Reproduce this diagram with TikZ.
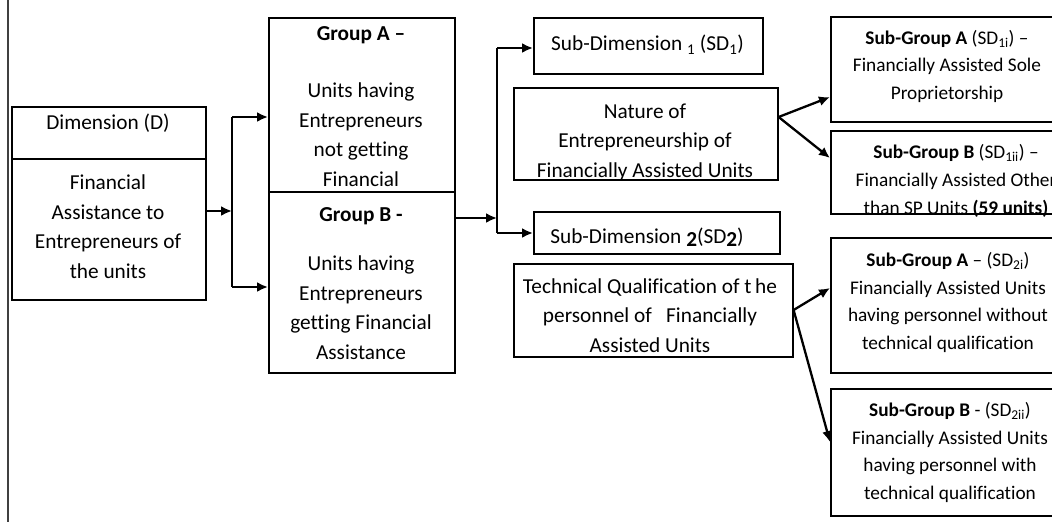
\documentclass[tikz,border=0pt]{standalone}
\usepackage{fontspec}
\setmainfont{Carlito}[Ligatures={TeX,NoCommon}]
\usetikzlibrary{arrows.meta}

\tikzset{
  box/.style={draw=black, line width=1.6pt, rectangle, inner sep=0pt, anchor=north west},
  txt/.style={align=center, inner sep=0pt, text=black,
    font=\fontsize{21.3}{29.7}\selectfont,
    execute at begin node=\strut, execute at end node=\strut},
  rtxt/.style={txt, font=\fontsize{19.3}{27.6}\selectfont},
  conn/.style={draw=black, line width=2.3pt},
  arr/.style={conn, -{Latex[length=11pt,width=10pt]}},
  lnk/.style={draw=black, line width=2.3pt, -{Latex[length=11pt,width=10pt]}, shorten <=-1pt},
}

\begin{document}
\begin{tikzpicture}[x=1pt,y=-1pt]
\useasboundingbox[fill=white] (0,0) rectangle (1052,522);

% page margin rule on the left
\draw[line width=1.2pt, black!75] (8,0) -- (8,522);

% ---- Dimension ----
\node[box, minimum width=194pt, minimum height=52pt] (dimtop) at (11,106) {};
\node[box, minimum width=194pt, minimum height=141pt] (dimbot) at (11,158) {};
\node[txt] (tdimtop) at (108,124) {Dimension (D)};
\node[txt] (tdimbot) at (108,231) {Financial\\Assistance to\\Entrepreneurs of\\the units};

% ---- Groups ----
\node[box, minimum width=186pt, minimum height=174pt] (grpA) at (268,17) {};
\node[box, minimum width=186pt, minimum height=181pt] (grpB) at (268,191) {};
\node[txt] (tgrpA) at (361,111) {\textbf{Group A –}\\[27.3pt]Units having\\Entrepreneurs\\not getting\\Financial};
\node[txt] (tgrpB) at (361,288) {\textbf{Group B -}\\[19.3pt]Units having\\Entrepreneurs\\getting Financial\\Assistance};

% ---- Sub-dimensions ----
\node[box, minimum width=229pt, minimum height=56pt] (sd1) at (533,17) {};
\node[txt] (tsd1) at (647.5,45) {Sub-Dimension \textsubscript{1} (SD\textsubscript{1})};
\node[box, minimum width=264pt, minimum height=92pt] (nat) at (513,87) {};
\node[txt] (tnat) at (645,145) {Nature of\\Entrepreneurship of\\Financially Assisted Units};

\node[box, minimum width=246pt, minimum height=42pt] (sd2) at (533,211) {};
\node[txt] (tsd2) at (647,238) {Sub-Dimension \raisebox{-2.5pt}{\textbf{2}}(SD\raisebox{-2.5pt}{\textbf{2}})};
\node[box, minimum width=279pt, minimum height=93pt] (tec) at (513,263) {};
\node[txt] (ttec) at (650,320) {Technical Qualification of t\,he\\personnel of \ \ Financially\\Assisted Units};

% ---- Sub-groups ----
\node[box, minimum width=234pt, minimum height=105pt] (sga1) at (830,16) {};
\node[rtxt] (tsga1) at (947,69) {\textbf{Sub-Group A} (SD\textsubscript{1i}) –\\Financially Assisted Sole\\Proprietorship};
\node[box, minimum width=252pt, minimum height=83pt] (sgb1) at (830,130) {};
\node[rtxt] (tsgb1) at (956,183.5) {\textbf{Sub-Group B} (SD\textsubscript{1ii}) –\\Financially Assisted Other\\than SP Units \textbf{(59 units)}};
\node[box, minimum width=236pt, minimum height=135pt] (sga2) at (830,237) {};
\node[rtxt] (tsga2) at (948,305) {\textbf{Sub-Group A} – (SD\textsubscript{2i})\\Financially Assisted Units\\having personnel without\\technical qualification};
\node[box, minimum width=240pt, minimum height=127pt] (sgb2) at (830,388) {};
\node[rtxt] (tsgb2) at (950,455) {\textbf{Sub-Group B} - (SD\textsubscript{2ii})\\Financially Assisted Units\\having personnel with\\technical qualification};

% ---- junction points ----
\coordinate (j1) at (232,211);
\coordinate (j1a) at (232,117);
\coordinate (j1b) at (232,287);
\coordinate (j2) at (497,218);
\coordinate (j2a) at (497,48);
\coordinate (j2b) at (497,233);
\coordinate (o1) at (777,117);
\coordinate (o2) at (792,310);

% ---- connectors ----
\draw[arr] (j1 -| dimbot.east) -- (j1);
\draw[conn] (j1a) -- (j1b);
\draw[arr] (j1a) -- (j1a -| grpA.west);
\draw[arr] (j1b) -- (j1b -| grpB.west);

\draw[arr] (j2 -| grpB.east) -- (j2);
\draw[conn] (j2a) -- (j2b);
\draw[arr] (j2a) -- (j2a -| sd1.west);
\draw[arr] (j2b) -- (j2b -| sd2.west);

\draw[lnk] (o1 -| nat.east) -- (sga1.west |- 0,97);
\draw[lnk] (o1 -| nat.east) -- (sgb1.west |- 0,158);
\draw[lnk] (o2 -| tec.east) -- (sga2.west |- 0,288);
\draw[lnk] (o2 -| tec.east) -- (sgb2.west |- 0,442);
\end{tikzpicture}
\end{document}
